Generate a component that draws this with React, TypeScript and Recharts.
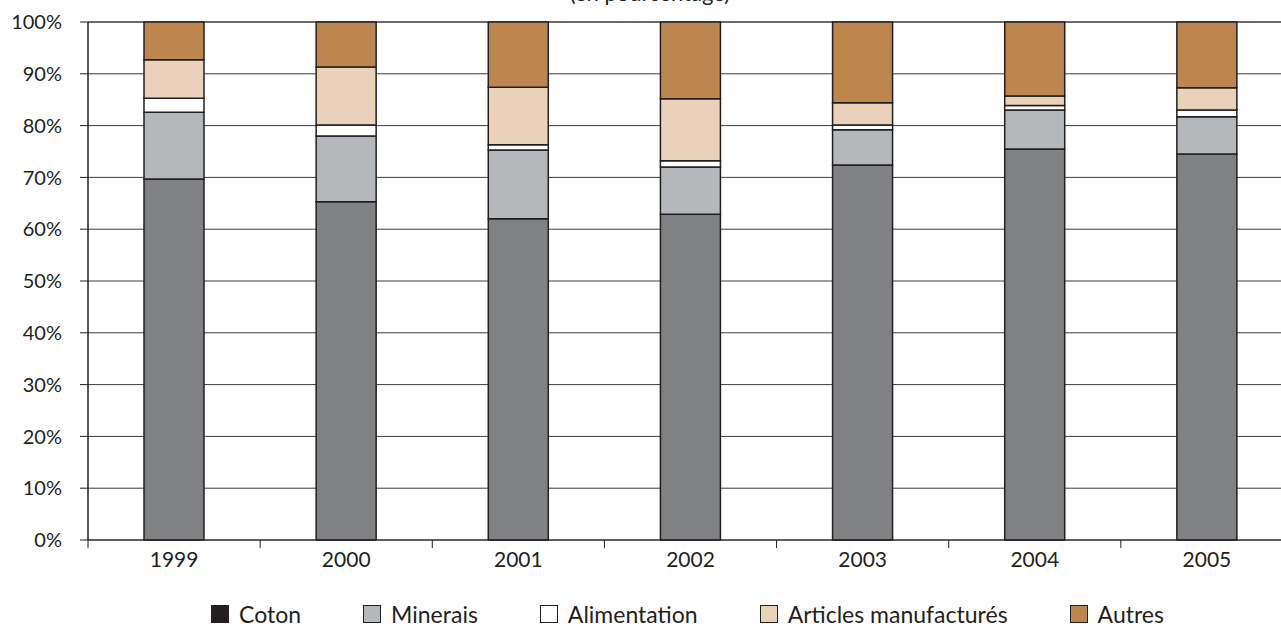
import { Bar, BarChart, CartesianGrid, Legend, XAxis, YAxis } from "recharts";

const YEARS = ["1999", "2000", "2001", "2002", "2003", "2004", "2005"];
const COTON = [69.7, 65.3, 62.0, 62.9, 72.4, 75.5, 74.5];
const MINERAIS = [12.9, 12.7, 13.3, 9.1, 6.8, 7.5, 7.2];
const ALIMENTATION = [2.7, 2.1, 1.0, 1.2, 0.9, 0.9, 1.3];
const ARTICLES = [7.4, 11.2, 11.1, 12.0, 4.3, 1.8, 4.3];
const AUTRES = [7.3, 8.7, 12.6, 14.8, 15.6, 14.3, 12.7];
const Y_TICKS = [0, 10, 20, 30, 40, 50, 60, 70, 80, 90, 100];

const SERIES = [
  { key: "coton", name: "Coton", values: COTON, fill: "#808183", swatch: "#231f20" },
  { key: "minerais", name: "Minerais", values: MINERAIS, fill: "#b5b8bb", swatch: "#b5b8bb" },
  { key: "alimentation", name: "Alimentation", values: ALIMENTATION, fill: "#ffffff", swatch: "#ffffff" },
  { key: "articles", name: "Articles manufacturés", values: ARTICLES, fill: "#e9d2b9", swatch: "#e9d2b9" },
  { key: "autres", name: "Autres", values: AUTRES, fill: "#bd864e", swatch: "#bd864e" },
];

const data = YEARS.map((year, i) => {
  const row: Record<string, string | number> = { year };
  SERIES.forEach((s) => {
    row[s.key] = s.values[i];
  });
  return row;
});

const FONT = "Lato, 'Noto Sans', sans-serif";
const INK = "#231f20";
const CHART_W = 1300;
const MARGIN_RIGHT = 7;
const Y_AXIS_W = 88;
const BAND = (CHART_W - MARGIN_RIGHT - Y_AXIS_W) / YEARS.length;

function YearTick({ x, y, payload, index }: any) {
  const last = index === YEARS.length - 1;
  return (
    <g>
      <line x1={x - BAND / 2} x2={x - BAND / 2} y1={y - 8} y2={y} stroke={INK} strokeWidth={1} />
      {last && <line x1={x + BAND / 2} x2={x + BAND / 2} y1={y - 8} y2={y} stroke={INK} strokeWidth={1} />}
      <text x={x} y={y + 19} textAnchor="middle" fontSize={21} fontFamily={FONT} fill={INK}>
        {payload.value}
      </text>
    </g>
  );
}

function LegendContent() {
  return (
    <div
      style={{
        height: 47,
        display: "flex",
        alignItems: "flex-end",
        justifyContent: "center",
        gap: 62,
        paddingLeft: 82,
        fontFamily: FONT,
        fontSize: 23,
        color: INK,
        boxSizing: "border-box",
      }}
    >
      {SERIES.map((s) => (
        <div key={s.key} style={{ display: "flex", alignItems: "center", gap: 10, lineHeight: "26px" }}>
          <span
            style={{
              display: "inline-block",
              width: 18,
              height: 18,
              background: s.swatch,
              border: `1.5px solid ${INK}`,
              boxSizing: "border-box",
            }}
          />
          <span>{s.name}</span>
        </div>
      ))}
    </div>
  );
}

export default function App() {
  return (
    <div
      style={{
        position: "absolute",
        left: 0,
        top: 0,
        width: 1281,
        height: 627,
        overflow: "hidden",
        background: "#fff",
      }}
    >
      <div
        style={{
          position: "absolute",
          top: -21,
          left: 0,
          width: 1300,
          textAlign: "center",
          fontFamily: FONT,
          fontSize: 22,
          color: INK,
        }}
      >
        (en pourcentage)
      </div>
      <BarChart
        width={CHART_W}
        height={627}
        data={data}
        margin={{ top: 22, right: MARGIN_RIGHT, bottom: 0, left: 0 }}
        barSize={60}
      >
        <CartesianGrid vertical={false} stroke="#3c3c3c" strokeWidth={1} />
        <XAxis
          dataKey="year"
          height={40}
          axisLine={{ stroke: INK, strokeWidth: 1 }}
          tickLine={false}
          tick={<YearTick />}
          interval={0}
        />
        <YAxis
          width={Y_AXIS_W}
          domain={[0, 100]}
          ticks={Y_TICKS}
          interval={0}
          tickFormatter={(v) => `${v}%`}
          axisLine={{ stroke: INK, strokeWidth: 1.5 }}
          tickLine={{ stroke: INK }}
          tickSize={8}
          tickMargin={18}
          tick={{ fontSize: 20, fontFamily: FONT, fill: INK }}
        />
        <Legend verticalAlign="bottom" height={47} content={<LegendContent />} />
        {SERIES.map((s) => (
          <Bar
            key={s.key}
            dataKey={s.key}
            name={s.name}
            stackId="a"
            fill={s.fill}
            stroke={INK}
            strokeWidth={1.5}
            isAnimationActive={false}
          />
        ))}
      </BarChart>
    </div>
  );
}
